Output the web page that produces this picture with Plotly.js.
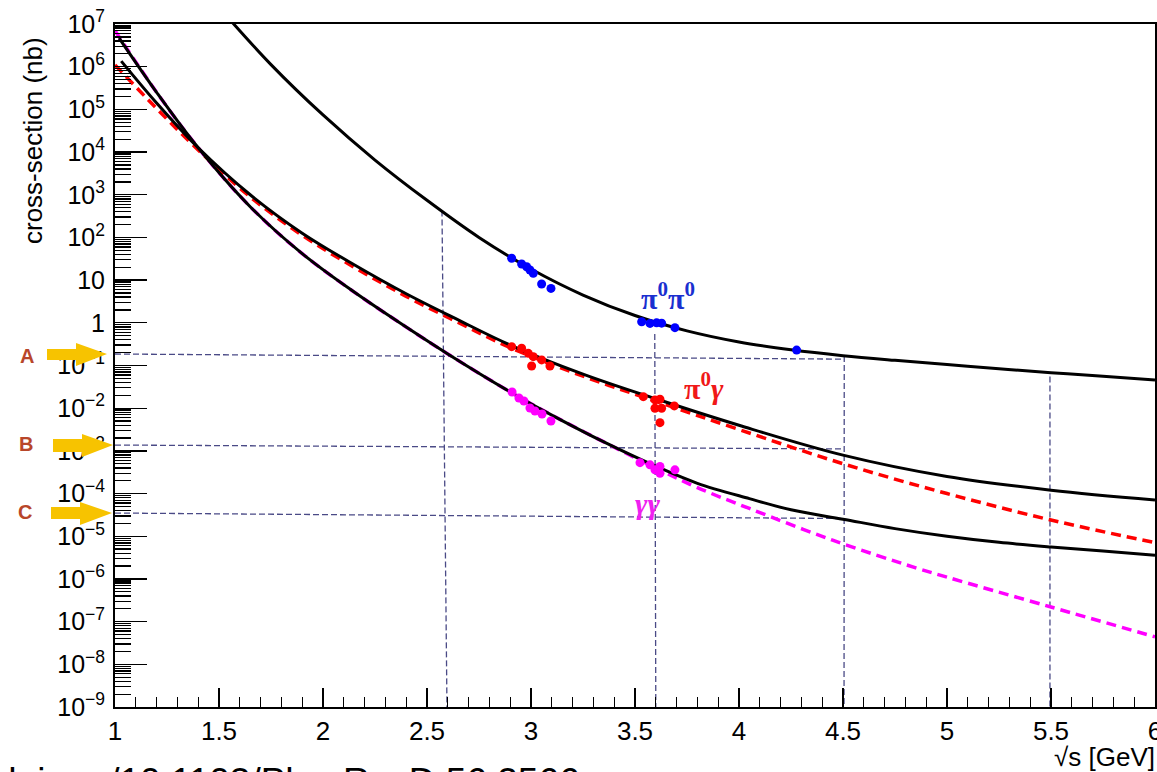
<!DOCTYPE html>
<html>
<head>
<meta charset="utf-8">
<script src="https://cdn.plot.ly/plotly-3.0.1.min.js"></script>
<style>
  html, body { margin: 0; padding: 0; background: #fff; overflow: hidden; }
  #chart { width: 1157px; height: 772px; }
</style>
</head>
<body>
<div id="chart"></div>
<script>
// Cross sections (nb) vs sqrt(s) (GeV): model curves and measured points

// pi0 pi0 model curve
const ppX = [1.5, 1.75, 2.0, 2.25, 2.5, 2.75, 3.0, 3.25, 3.5, 3.75, 4.0, 4.25, 4.5, 4.75, 5.0, 5.25, 5.5, 5.75, 6.0];
const ppY = [2.45e7, 1.12e6, 7.4e4, 6.5e3, 741, 100, 18.2, 4.47, 1.48, 0.646, 0.355, 0.234, 0.17, 0.132, 0.105, 0.084, 0.068, 0.056, 0.046];

// pi0 gamma model curve (solid) and alternative (dashed)
const pgX = [1.03, 1.2, 1.4, 1.65, 1.9, 2.15, 2.4, 2.65, 2.9, 3.25, 3.6, 4.0, 4.5, 5.0, 5.5, 6.0];
const pgY = [1.35e6, 1.41e5, 1.26e4, 1000, 126, 22.9, 4.79, 1.17, 0.302, 0.063, 0.0166, 3.98e-3, 7.94e-4, 2.51e-4, 1.2e-4, 7.08e-5];
const pgDashX = [1.0, 1.2, 1.4, 1.65, 1.9, 2.15, 2.4, 2.65, 2.9, 3.25, 3.6, 4.0, 4.5, 5.0, 5.5, 6.0];
const pgDashY = [1.1e6, 1.05e5, 1.12e4, 891, 112, 20, 4.17, 1.02, 0.263, 0.0562, 0.0145, 3.16e-3, 5.0e-4, 1.0e-4, 2.4e-5, 7.1e-6];

// gamma gamma model curve (solid) and alternative (dashed)
const ggX = [1.02, 1.2, 1.4, 1.65, 1.9, 2.15, 2.4, 2.6, 2.9, 3.1, 3.35, 3.6, 3.8, 4.05, 4.25, 4.5, 4.75, 5.0, 5.25, 5.5, 5.75, 6.0];
const ggY = [4.68e6, 2.51e5, 1.26e4, 525, 41.7, 5.25, 0.794, 0.186, 0.024, 6.9e-3, 1.62e-3, 4.37e-4, 1.74e-4, 7.6e-5, 4.17e-5, 2.51e-5, 1.51e-5, 1.0e-5, 7.2e-6, 5.6e-6, 4.5e-6, 3.6e-6];
const ggDashX = [1.0, 1.2, 1.4, 1.65, 1.9, 2.15, 2.4, 2.6, 2.9, 3.1, 3.35, 3.6, 3.8, 4.05, 4.45, 4.85, 5.0, 5.5, 6.0];
const ggDashY = [7.0e6, 2.51e5, 1.26e4, 525, 41.7, 5.25, 0.794, 0.186, 0.024, 6.9e-3, 1.62e-3, 3.98e-4, 1.38e-4, 4.47e-5, 8.1e-6, 1.82e-6, 1.1e-6, 2.2e-7, 4.4e-8];

// measured points
const ppDataX = [2.907, 2.955, 2.979, 2.995, 3.011, 3.051, 3.096, 3.532, 3.572, 3.604, 3.628, 3.692, 4.277];
const ppDataY = [32.5, 23.9, 20.6, 17.3, 14.5, 8.1, 6.4, 1.06, 0.97, 1.0, 0.98, 0.77, 0.23];
const pgDataX = [2.907, 2.955, 2.987, 3.011, 3.003, 3.051, 3.091, 3.540, 3.596, 3.620, 3.596, 3.628, 3.620, 3.689];
const pgDataY = [0.276, 0.253, 0.193, 0.161, 0.0975, 0.135, 0.0975, 0.0186, 0.0156, 0.0162, 0.00995, 0.00995, 0.00458, 0.0113];
const ggDataX = [2.909, 2.942, 2.966, 2.995, 3.019, 3.053, 3.096, 3.524, 3.572, 3.596, 3.620, 3.620, 3.692];
const ggDataY = [0.024, 0.0173, 0.0147, 0.0101, 0.0086, 0.0073, 0.0050, 5.3e-4, 4.7e-4, 3.6e-4, 4.3e-4, 3.0e-4, 3.6e-4];

// reading guides: horizontal levels A, B, C and vertical energies
const levelNames = ['A', 'B', 'C'];
const levelX = [1.0, 4.5];
const levelY = [[0.186, 0.141], [1.37e-3, 1.11e-3], [3.5e-5, 2.6e-5]];
const vertX = [[2.572, 2.596], [3.595, 3.6], [4.506, 4.505], [5.495, 5.495]];
const vertY = [[430, 1e-9], [0.55, 1e-9], [0.167, 1e-9], [0.055, 1e-9]];

// axis tick labels
const yTickVals = [1e-9, 1e-8, 1e-7, 1e-6, 1e-5, 1e-4, 1e-3, 1e-2, 1e-1, 1, 10, 1e2, 1e3, 1e4, 1e5, 1e6, 1e7];
const yTickText = ['10<sup>\u22129</sup>', '10<sup>\u22128</sup>', '10<sup>\u22127</sup>', '10<sup>\u22126</sup>',
  '10<sup>\u22125</sup>', '10<sup>\u22124</sup>', '10<sup>\u22123</sup>', '10<sup>\u22122</sup>', '10<sup>\u22121</sup>',
  '1', '10', '10<sup>2</sup>', '10<sup>3</sup>', '10<sup>4</sup>', '10<sup>5</sup>', '10<sup>6</sup>', '10<sup>7</sup>'];
const xTickVals = [1, 1.5, 2, 2.5, 3, 3.5, 4, 4.5, 5, 5.5, 6];
const xTickText = ['1', '1.5', '2', '2.5', '3', '3.5', '4', '4.5', '5', '5.5', '6'];

// page geometry
const W = 1157, H = 772;
const M = { l: 115, r: 2, t: 24, b: 65 };
const px = v => (v - M.l) / (W - M.l - M.r);
const py = v => (H - M.b - v) / (H - M.t - M.b);

const minorY = [];
for (let e = -9; e < 7; e++) for (let k = 2; k <= 9; k++) minorY.push(k * Math.pow(10, e));

const guideColor = '#4a4a86';
const traces = [];

levelY.forEach(ys => traces.push({
  x: levelX, y: ys, mode: 'lines', hoverinfo: 'skip', showlegend: false,
  line: { color: guideColor, width: 1.3, dash: '6px,3px' }
}));
vertX.forEach((xs, i) => traces.push({
  x: xs, y: vertY[i], mode: 'lines', hoverinfo: 'skip', showlegend: false,
  line: { color: guideColor, width: 1.3, dash: '6px,3px' }
}));

const curve = (x, y, color, dash) => ({
  x, y, mode: 'lines', hoverinfo: 'skip', showlegend: false,
  line: { color, width: dash ? 3.5 : 3, dash: dash || 'solid', shape: 'spline', smoothing: 1 }
});
traces.push(curve(ggDashX, ggDashY, '#ff00ff', '10px,6px'));
traces.push(curve(pgDashX, pgDashY, '#ff0000', '10px,6px'));
traces.push(curve(ppX, ppY, '#000000'));
traces.push(curve(pgX, pgY, '#000000'));
traces.push(curve(ggX, ggY, '#000000'));

const pts = (x, y, color) => ({
  x, y, mode: 'markers', hoverinfo: 'skip', showlegend: false,
  marker: { color, size: 9, line: { width: 0 } }
});
traces.push(pts(ppDataX, ppDataY, '#0000ff'));
traces.push(pts(pgDataX, pgDataY, '#ff0000'));
traces.push(pts(ggDataX, ggDataY, '#ff00ff'));

// yellow arrows pointing at the A, B, C levels (pixel outlines)
const arrowsPx = [
  { shaft: [47, 76, 349, 360], head: [76, 107, 343, 366, 354], label: [27, 356] },
  { shaft: [53, 82, 439, 452], head: [82, 113, 434, 457, 445], label: [26, 444] },
  { shaft: [51, 80, 507, 519], head: [80, 112, 502, 525, 513], label: [25, 512] }
];
const shapes = [];
const annotations = [];
arrowsPx.forEach((a, i) => {
  const [sx0, sx1, sy0, sy1] = a.shaft;
  const [hx0, hx1, hy0, hy1, ty] = a.head;
  const p = (x, y) => px(x).toFixed(5) + ',' + py(y).toFixed(5);
  shapes.push({
    type: 'path', xref: 'paper', yref: 'paper', layer: 'above',
    path: 'M' + p(sx0, sy0) + ' L' + p(hx0, sy0) + ' L' + p(hx0, hy0) + ' L' + p(hx1, ty) +
          ' L' + p(hx0, hy1) + ' L' + p(hx0, sy1) + ' L' + p(sx0, sy1) + ' Z',
    fillcolor: '#f7c300', line: { width: 0 }
  });
  annotations.push({
    xref: 'paper', yref: 'paper', x: px(a.label[0]), y: py(a.label[1]),
    xanchor: 'center', yanchor: 'middle', showarrow: false,
    text: '<b>' + levelNames[i] + '</b>',
    font: { family: 'Liberation Sans, Arial, sans-serif', size: 20, color: '#b8462a' }
  });
});

// curve labels
annotations.push({
  xref: 'paper', yref: 'paper', x: px(668), y: py(296), xanchor: 'center', yanchor: 'middle', showarrow: false,
  text: '<b>\u03c0<sup>0</sup>\u03c0<sup>0</sup></b>',
  font: { family: 'Liberation Serif, DejaVu Serif, serif', size: 30, color: '#1a2fd0' }
});
annotations.push({
  xref: 'paper', yref: 'paper', x: px(704), y: py(386), xanchor: 'center', yanchor: 'middle', showarrow: false,
  text: '<b>\u03c0<sup>0</sup><i>\u03b3</i></b>',
  font: { family: 'Liberation Serif, DejaVu Serif, serif', size: 30, color: '#f01818' }
});
annotations.push({
  xref: 'paper', yref: 'paper', x: px(647), y: py(503), xanchor: 'center', yanchor: 'middle', showarrow: false,
  text: '<b><i>\u03b3\u03b3</i></b>',
  font: { family: 'Liberation Serif, DejaVu Serif, serif', size: 30, color: '#f020f0' }
});

// axis titles
annotations.push({
  xref: 'paper', yref: 'paper', x: px(33), y: py(141), xanchor: 'center', yanchor: 'middle', showarrow: false,
  textangle: -90, text: 'cross-section (nb)',
  font: { family: 'Liberation Sans, Arial, sans-serif', size: 26, color: '#000' }
});
annotations.push({
  xref: 'paper', yref: 'paper', x: px(1157), y: py(757), xanchor: 'right', yanchor: 'middle', showarrow: false,
  text: '\u221as [GeV]',
  font: { family: 'Liberation Sans, Arial, sans-serif', size: 26, color: '#000' }
});
// source reference, running off the bottom edge
annotations.push({
  xref: 'paper', yref: 'paper', x: px(-6), y: py(759), xanchor: 'left', yanchor: 'top', showarrow: false,
  text: 'doi.org/10.1103/PhysRevD.56.2566',
  font: { family: 'Liberation Sans, Arial, sans-serif', size: 37, color: '#000' }
});

const layout = {
  width: W, height: H,
  margin: M,
  paper_bgcolor: '#fff', plot_bgcolor: '#fff',
  showlegend: false,
  font: { family: 'Liberation Sans, Arial, sans-serif', color: '#000' },
  xaxis: {
    type: 'linear', range: [1, 6], autorange: false,
    tickmode: 'array', tickvals: xTickVals, ticktext: xTickText,
    ticks: 'inside', ticklen: 19, tickwidth: 1.3, tickcolor: '#000',
    minor: { ticks: 'inside', ticklen: 10, tickwidth: 1.3, tickcolor: '#000', dtick: 0.1, tick0: 1, showgrid: false },
    showgrid: false, zeroline: false,
    showline: true, linecolor: '#000', linewidth: 2, mirror: true,
    tickfont: { size: 26, family: 'Liberation Sans, Arial, sans-serif' },
    ticklabeloverflow: 'allow',
    automargin: false
  },
  yaxis: {
    type: 'log', range: [-9, 7], autorange: false,
    tickmode: 'array', tickvals: yTickVals, ticktext: yTickText,
    ticks: 'inside', ticklen: 32, tickwidth: 1.3, tickcolor: '#000',
    minor: { ticks: 'inside', ticklen: 16, tickwidth: 1.3, tickcolor: '#000', tickmode: 'array', tickvals: minorY, showgrid: false },
    showgrid: false, zeroline: false,
    showline: true, linecolor: '#000', linewidth: 2, mirror: true,
    tickfont: { size: 25, family: 'Liberation Sans, Arial, sans-serif' },
    ticklabelstandoff: 3,
    ticklabeloverflow: 'allow',
    automargin: false
  },
  shapes, annotations
};

Plotly.newPlot('chart', traces, layout, { displayModeBar: false, staticPlot: true });
</script>
</body>
</html>
